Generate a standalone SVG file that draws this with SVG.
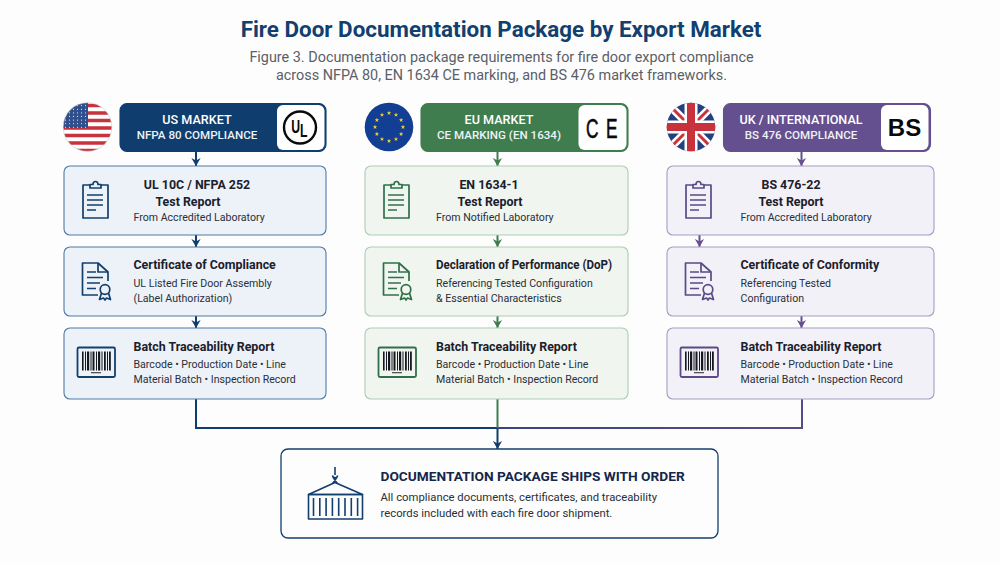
<svg xmlns="http://www.w3.org/2000/svg" xmlns:xlink="http://www.w3.org/1999/xlink" width="1000" height="563" viewBox="0 0 1000 563">
<style>
text{font-family:Roboto,"Liberation Sans",sans-serif;fill:#1b202b}
.title{font-size:22.4px;font-weight:700;fill:#123f6e;text-anchor:middle}
.sub{font-size:14.4px;fill:#5a6068;text-anchor:middle;font-weight:400}
.h1{font-size:12.6px;font-weight:500;fill:#fff;text-anchor:middle}
.h2{font-size:11.6px;font-weight:500;fill:#eef2f6;text-anchor:middle}
.t{font-size:12.4px;font-weight:700}
.m{text-anchor:middle}
.b{font-size:10.6px;fill:#2a2f38}
.tt{font-size:13.7px;font-weight:700;fill:#14264a}
.bb{font-size:11.3px;fill:#2a2f38}
.lg{fill:#0a0a0a;font-family:"Liberation Sans",sans-serif;font-weight:700}
.i{fill:none;stroke-width:1.7;stroke-linejoin:round}
.us .card{fill:#edf2f9;stroke:#4f7aa8}.us .hd{fill:#0f3d6e;stroke:#0f3d6e}.us .i{stroke:#123f6e}
.eu .card{fill:#f0f5f0;stroke:#aecdb3}.eu .hd{fill:#3f7d4f;stroke:#3f7d4f}.eu .i{stroke:#2f7048}
.uk .card{fill:#f2f1f8;stroke:#a69cc6}.uk .hd{fill:#65508f;stroke:#65508f}.uk .i{stroke:#5b4a86}
.card,.hd{stroke-width:1.1}
.logo{fill:#fff}
.conn{fill:none;stroke-width:2}
</style>
<defs>
<clipPath id="cUS"><circle cx="87.5" cy="127" r="24.3"/></clipPath>
<clipPath id="cUK"><circle cx="691" cy="127" r="24.3"/></clipPath>
<pattern id="dots" width="4" height="3.6" patternUnits="userSpaceOnUse"><circle cx="1.5" cy="1.2" r=".6" fill="#fff"/></pattern>
<polygon id="star" points="0,-2.3 .6,-.7 2.2,-.7 .9,.3 1.4,1.9 0,.9 -1.4,1.9 -.9,.3 -2.2,-.7 -.6,-.7" fill="#f5cf2d"/>
<marker id="aUS" markerWidth="10" markerHeight="10" refX="8" refY="5" orient="auto" markerUnits="userSpaceOnUse"><path d="M0 .4L8 5L0 9.600L2.600 5Z" fill="#0f3d6e"/></marker>
<marker id="aEU" markerWidth="10" markerHeight="10" refX="8" refY="5" orient="auto" markerUnits="userSpaceOnUse"><path d="M0 .4L8 5L0 9.600L2.600 5Z" fill="#3f7d4f"/></marker>
<marker id="aUK" markerWidth="10" markerHeight="10" refX="8" refY="5" orient="auto" markerUnits="userSpaceOnUse"><path d="M0 .4L8 5L0 9.600L2.600 5Z" fill="#65508f"/></marker>
<linearGradient id="mix" gradientUnits="userSpaceOnUse" x1="498" y1="0" x2="802" y2="0"><stop offset="0" stop-color="#3a4580"/><stop offset="1" stop-color="#5b4a8a"/></linearGradient>
<g id="clip">
<path d="M90 185H83V218H108V185H101"/><path d="M90 188V184.500H93C93 180.500 98 180.500 98 184.500H101V188Z"/>
<path d="M87 195H103M87 200H103M87 205H103M87 210H96"/>
</g>
<g id="doc">
<path d="M98 295H82.500V263H98L108 272V281"/><path d="M98 263V272H108"/>
<path d="M87 272H96M87 277.500H103M87 283H100M87 288.500H96"/>
<circle cx="105" cy="289.500" r="4.800"/><path d="M101.500 293L99.500 299.500L103.500 298L105 300L106.500 298L110.500 299.500L108.500 293"/>
</g>
<g id="bar">
<rect x="77.500" y="347.500" width="37.500" height="29.500" rx="1.500" stroke-width="1.800"/>
<g fill="#15181e" stroke="none"><rect x="82" y="351.500" width="1.600" height="19"/><rect x="85" y="351.500" width="1" height="19"/><rect x="87" y="351.500" width="2.200" height="19"/><rect x="90.500" y="351.500" width="1" height="19"/><rect x="92.500" y="351.500" width="2" height="19"/><rect x="96" y="351.500" width="1" height="19"/><rect x="98" y="351.500" width="2.200" height="19"/><rect x="101.500" y="351.500" width="1" height="19"/><rect x="104" y="351.500" width="1.800" height="19"/><rect x="107" y="351.500" width="1" height="19"/><rect x="109" y="351.500" width="1.800" height="19"/><rect x="91" y="372" width="10" height="1.300" fill="#555"/></g>
</g>
</defs>
<rect width="1000" height="563" fill="#fdfdfd"/>
<text class="title" x="501" y="37">Fire Door Documentation Package by Export Market</text>
<text class="sub" x="501.500" y="62">Figure 3. Documentation package requirements for fire door export compliance</text>
<text class="sub" x="501.500" y="80">across NFPA 80, EN 1634 CE marking, and BS 476 market frameworks.</text>

<g id="connectors" class="conn">
<path d="M196 152V166" stroke="#0f3d6e" marker-end="url(#aUS)"/>
<path d="M196 235V247" stroke="#0f3d6e" marker-end="url(#aUS)"/>
<path d="M196 316V328" stroke="#0f3d6e" marker-end="url(#aUS)"/>
<path d="M497.500 152V166" stroke="#3f7d4f" marker-end="url(#aEU)"/>
<path d="M497.500 235V247" stroke="#3f7d4f" marker-end="url(#aEU)"/>
<path d="M497.500 316V328" stroke="#3f7d4f" marker-end="url(#aEU)"/>
<path d="M801.500 152V166" stroke="#65508f" marker-end="url(#aUK)"/>
<path d="M699.500 235V247" stroke="#65508f" marker-end="url(#aUK)"/>
<path d="M801.500 316V328" stroke="#65508f" marker-end="url(#aUK)"/>
<path d="M802 399V428H498" stroke="url(#mix)"/>
<path d="M802 399V428" stroke="#5b4a8a"/>
<path d="M196 399V428H497.500" stroke="#0f3d6e"/>
<path d="M497.500 399V428" stroke="#3f7d4f"/>
<path d="M497.500 428V449" stroke="#0f3d6e" marker-end="url(#aUS)"/>
</g>

<g id="flag-us">
<g clip-path="url(#cUS)">
<rect x="63" y="102" width="49" height="50" fill="#fff"/>
<path d="M63 105.500H112M63 113H112M63 120.500H112M63 128H112M63 135.500H112M63 143H112M63 150.500H112" stroke="#c8323c" stroke-width="3.700"/>
<rect x="63" y="102" width="25" height="26" fill="#2f4f8c"/>
<rect x="63" y="102" width="25" height="26" fill="url(#dots)"/>
</g>
<circle cx="87.500" cy="127" r="24.300" fill="none" stroke="#c9cdd4" stroke-width=".6"/>
</g>

<g id="flag-eu">
<circle cx="389" cy="127" r="24.300" fill="#123f94"/>
<use xlink:href="#star" href="#star" x="389" y="113"/><use href="#star" x="396" y="114.900"/><use href="#star" x="401.100" y="120"/><use href="#star" x="403" y="127"/><use href="#star" x="401.100" y="134"/><use href="#star" x="396" y="139.100"/><use href="#star" x="389" y="141"/><use href="#star" x="382" y="139.100"/><use href="#star" x="376.900" y="134"/><use href="#star" x="375" y="127"/><use href="#star" x="376.900" y="120"/><use href="#star" x="382" y="114.900"/>
</g>

<g id="flag-uk">
<g clip-path="url(#cUK)">
<rect x="666" y="102" width="50" height="50" fill="#24407f"/>
<path d="M666 102L716 152M716 102L666 152" stroke="#fff" stroke-width="8"/>
<path d="M666 102L716 152M716 102L666 152" stroke="#c8323c" stroke-width="3"/>
<path d="M691 102V152M666 127H716" stroke="#fff" stroke-width="13"/>
<path d="M691 102V152M666 127H716" stroke="#c8323c" stroke-width="8"/>
</g>
</g>

<g id="us-header" class="us">
<rect class="hd" x="120" y="103.500" width="206" height="48" rx="7"/>
<rect class="logo" x="277" y="105" width="47.500" height="45" rx="6"/>
<circle cx="300" cy="127.500" r="16" fill="#fff" stroke="#0a0a0a" stroke-width="2.400"/>
<text class="lg" transform="translate(291.200 132.500) scale(.7 1)" style="font-size:17.500px">U<tspan dy="4">L</tspan></text>
<text class="h1" x="197" y="124">US MARKET</text>
<text class="h2" x="197" y="139">NFPA 80 COMPLIANCE</text>
</g>
<g id="us-test" class="us">
<rect class="card" x="64" y="166" width="262" height="69" rx="6"/>
<use href="#clip" class="i"/>
<text class="t m" x="197" y="189">UL 10C / NFPA 252</text>
<text class="t m" x="188" y="206">Test Report</text>
<text class="b" x="133.500" y="221">From Accredited Laboratory</text>
</g>
<g id="us-cert" class="us">
<rect class="card" x="64" y="247" width="262" height="69" rx="6"/>
<use href="#doc" class="i"/>
<text class="t" x="133.500" y="269">Certificate of Compliance</text>
<text class="b" x="133.500" y="287">UL Listed Fire Door Assembly</text>
<text class="b" x="133.500" y="302">(Label Authorization)</text>
</g>
<g id="us-batch" class="us">
<rect class="card" x="64" y="328" width="262" height="71" rx="6"/>
<use href="#bar" class="i"/>
<text class="t" x="133.500" y="351">Batch Traceability Report</text>
<text class="b" x="133.500" y="368">Barcode • Production Date • Line</text>
<text class="b" x="133.500" y="383">Material Batch • Inspection Record</text>
</g>

<g id="eu-header" class="eu">
<rect class="hd" x="421" y="103.500" width="207" height="48" rx="7"/>
<rect class="logo" x="578.500" y="105" width="48" height="45" rx="6"/>
<text class="lg" x="586" y="137.500" textLength="12.500" lengthAdjust="spacingAndGlyphs" style="font-size:27px;font-weight:400;stroke:#0a0a0a;stroke-width:.6px">C</text>
<text class="lg" x="606" y="137.500" textLength="11.500" lengthAdjust="spacingAndGlyphs" style="font-size:27px;font-weight:400;stroke:#0a0a0a;stroke-width:.6px">E</text>
<text class="h1" x="499" y="124">EU MARKET</text>
<text class="h2" x="499" y="139">CE MARKING (EN 1634)</text>
</g>
<g id="eu-test" class="eu">
<rect class="card" x="365" y="166" width="263" height="69" rx="6"/>
<use href="#clip" x="301" class="i"/>
<text class="t m" x="489" y="189">EN 1634-1</text>
<text class="t m" x="490" y="206">Test Report</text>
<text class="b" x="436" y="221">From Notified Laboratory</text>
</g>
<g id="eu-cert" class="eu">
<rect class="card" x="365" y="247" width="263" height="69" rx="6"/>
<use href="#doc" x="301" class="i"/>
<text class="t" x="436" y="269" textLength="176" lengthAdjust="spacingAndGlyphs">Declaration of Performance (DoP)</text>
<text class="b" x="436" y="287">Referencing Tested Configuration</text>
<text class="b" x="436" y="302">&amp; Essential Characteristics</text>
</g>
<g id="eu-batch" class="eu">
<rect class="card" x="365" y="328" width="263" height="71" rx="6"/>
<use href="#bar" x="301" class="i"/>
<text class="t" x="436" y="351">Batch Traceability Report</text>
<text class="b" x="436" y="368">Barcode • Production Date • Line</text>
<text class="b" x="436" y="383">Material Batch • Inspection Record</text>
</g>

<g id="uk-header" class="uk">
<rect class="hd" x="723.500" y="103.500" width="207" height="48" rx="7"/>
<rect class="logo" x="881" y="105" width="47.500" height="45" rx="6"/>
<text class="lg" x="904.500" y="136" text-anchor="middle" style="font-size:24px">BS</text>
<text class="h1" x="801" y="124">UK / INTERNATIONAL</text>
<text class="h2" x="801" y="139">BS 476 COMPLIANCE</text>
</g>
<g id="uk-test" class="uk">
<rect class="card" x="667" y="166" width="267" height="69" rx="6"/>
<use href="#clip" x="603" class="i"/>
<text class="t m" x="791" y="189">BS 476-22</text>
<text class="t m" x="791" y="206">Test Report</text>
<text class="b" x="740.500" y="221">From Accredited Laboratory</text>
</g>
<g id="uk-cert" class="uk">
<rect class="card" x="667" y="247" width="267" height="69" rx="6"/>
<use href="#doc" x="603" class="i"/>
<text class="t" x="740.500" y="269">Certificate of Conformity</text>
<text class="b" x="740.500" y="287">Referencing Tested</text>
<text class="b" x="740.500" y="302">Configuration</text>
</g>
<g id="uk-batch" class="uk">
<rect class="card" x="667" y="328" width="267" height="71" rx="6"/>
<use href="#bar" x="603" class="i"/>
<text class="t" x="740.500" y="351">Batch Traceability Report</text>
<text class="b" x="740.500" y="368">Barcode • Production Date • Line</text>
<text class="b" x="740.500" y="383">Material Batch • Inspection Record</text>
</g>

<g id="shipment">
<rect x="281" y="449" width="437" height="89" rx="7" fill="#fdfdfe" stroke="#123f6e" stroke-width="1.300"/>
<g fill="none" stroke="#123f6e" stroke-width="1.600" stroke-linejoin="round">
<path d="M335 467V475"/><path d="M337.500 475.500C337.500 478.500 333 478.500 332.500 475.500M337 477L332.800 483.500M333 477L337.200 483.500"/>
<path d="M308.500 494.500L335 482.500L362.500 494.500Z"/>
<rect x="308.500" y="494.500" width="54" height="24.500"/>
<path d="M313.500 498V516M319.800 498V516M326.100 498V516M332.400 498V516M338.700 498V516M345 498V516M351.300 498V516M357.600 498V516"/>
</g>
<text class="tt" x="380.500" y="481">DOCUMENTATION PACKAGE SHIPS WITH ORDER</text>
<text class="bb" x="380.500" y="501">All compliance documents, certificates, and traceability</text>
<text class="bb" x="380.500" y="517">records included with each fire door shipment.</text>
</g>
</svg>
